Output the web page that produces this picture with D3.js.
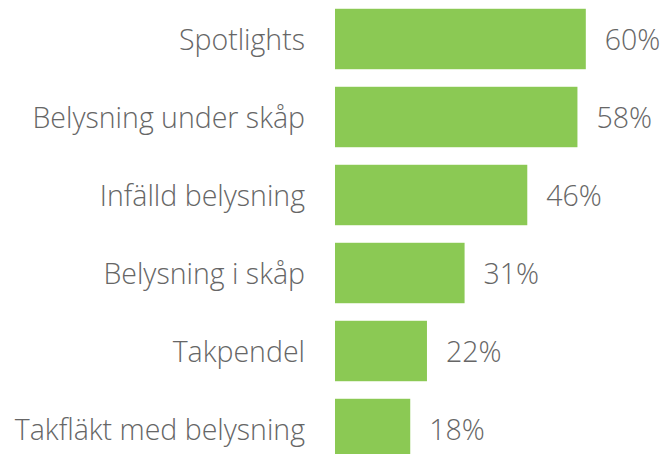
<!DOCTYPE html>
<html>
<head>
<meta charset="utf-8">
<script src="https://cdn.jsdelivr.net/npm/d3@7"></script>
<style>
  body { margin: 0; background: #fff; }
  text { font-family: "Open Sans", sans-serif; font-weight: 300; fill: #666; }
</style>
</head>
<body>
<script>
// data
var categories = ["Spotlights", "Belysning under skåp", "Infälld belysning", "Belysning i skåp", "Takpendel", "Takfläkt med belysning"];
var values = [60, 58, 46, 31, 22, 18];

var width = 665,
    height = 454,
    left = 335;

var svg = d3.select("body").append("svg")
    .attr("width", width)
    .attr("height", height);

var x = d3.scaleLinear()
    .domain([0, 100])
    .range([0, 418]);

var y = d3.scaleBand()
    .domain(categories)
    .range([0, 468])
    .paddingInner(0.225)
    .paddingOuter(0.1125);

var rows = svg.selectAll(".row")
    .data(categories)
    .enter().append("g")
    .attr("class", "row")
    .attr("transform", function(d) { return "translate(0," + y(d) + ")"; });

rows.append("rect")
    .attr("x", left)
    .attr("width", function(d, i) { return x(values[i]); })
    .attr("height", y.bandwidth())
    .attr("fill", "#8bc954");

rows.append("text")
    .attr("x", 305)
    .attr("y", y.bandwidth() / 2 + 1.5)
    .attr("dy", "0.35em")
    .attr("text-anchor", "end")
    .style("font-size", "28.5px")
    .text(function(d) { return d; });

rows.append("text")
    .attr("x", function(d, i) { return left + x(values[i]) + 19; })
    .attr("y", y.bandwidth() / 2 + 1.5)
    .attr("dy", "0.35em")
    .style("font-size", "28.5px")
    .text(function(d, i) { return values[i] + "%"; });
</script>
</body>
</html>
